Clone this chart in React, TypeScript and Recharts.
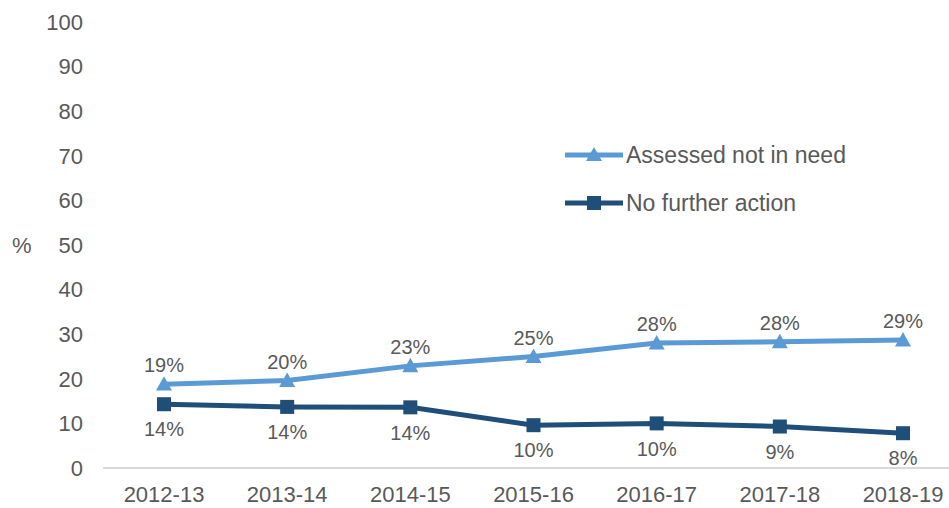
import { LineChart, Line, XAxis, YAxis, LabelList } from 'recharts';

const years = ['2012-13', '2013-14', '2014-15', '2015-16', '2016-17', '2017-18', '2018-19'];
const assessedNotInNeed = [18.8, 19.6, 22.9, 25.0, 28.0, 28.3, 28.7];
const noFurtherAction = [14.3, 13.7, 13.6, 9.6, 10.0, 9.3, 7.8];
const yTicks = [0, 10, 20, 30, 40, 50, 60, 70, 80, 90, 100];

const LIGHT = '#5B9BD5';
const DARK = '#1F4E79';
const TEXT = '#595959';
const FONT = '"Liberation Sans", Arial, sans-serif';

const data = years.map((year, i) => ({
  year,
  assessed: assessedNotInNeed[i],
  nfa: noFurtherAction[i],
}));

const pct = (v: any) => `${Math.round(Number(v))}%`;

const Triangle = (props: any) => {
  const { cx, cy, fill } = props;
  if (cx == null || cy == null) return null;
  const s = 8;
  return <path d={`M${cx},${cy - s} L${cx + s},${cy + s * 0.8} L${cx - s},${cy + s * 0.8} Z`} fill={fill} />;
};

const Square = (props: any) => {
  const { cx, cy, fill } = props;
  if (cx == null || cy == null) return null;
  const s = 7;
  return <rect x={cx - s} y={cy - s} width={s * 2} height={s * 2} fill={fill} />;
};

function LegendRow({ y, color, shape, text }: { y: number; color: string; shape: 'tri' | 'sq'; text: string }) {
  return (
    <div style={{ position: 'absolute', left: 565, top: y - 14, height: 28, display: 'flex', alignItems: 'center' }}>
      <svg width={58} height={28}>
        <line x1={0} y1={14} x2={58} y2={14} stroke={color} strokeWidth={5} />
        {shape === 'tri' ? (
          <path d="M29,6 L37,20 L21,20 Z" fill={color} />
        ) : (
          <rect x={22} y={7} width={14} height={14} fill={color} />
        )}
      </svg>
      <span style={{ fontFamily: FONT, fontSize: 23, color: TEXT, marginLeft: 3 }}>{text}</span>
    </div>
  );
}

export default function App() {
  return (
    <div style={{ position: 'absolute', left: 0, top: 0, width: 949, height: 508, overflow: 'hidden', background: '#fff' }}>
      <LineChart width={964} height={508} data={data} margin={{ top: 22, right: 0, bottom: 0, left: 0 }}>
        <XAxis
          dataKey="year"
          height={40}
          padding={{ left: 61, right: 61 }}
          axisLine={{ stroke: '#D9D9D9', strokeWidth: 2 }}
          tickLine={false}
          tick={{ fill: TEXT, fontSize: 22, fontFamily: FONT }}
          tickMargin={12}
        />
        <YAxis
          width={103}
          domain={[0, 100]}
          ticks={yTicks}
          interval={0}
          axisLine={false}
          tickLine={false}
          tick={{ fill: TEXT, fontSize: 22, fontFamily: FONT }}
          tickMargin={14}
        />
        <Line
          dataKey="assessed"
          stroke={LIGHT}
          strokeWidth={5}
          dot={<Triangle fill={LIGHT} />}
          isAnimationActive={false}
        >
          <LabelList dataKey="assessed" position="top" offset={12} formatter={pct} fill={TEXT} fontSize={20} fontFamily={FONT} />
        </Line>
        <Line
          dataKey="nfa"
          stroke={DARK}
          strokeWidth={5}
          dot={<Square fill={DARK} />}
          isAnimationActive={false}
        >
          <LabelList dataKey="nfa" position="bottom" offset={18} formatter={pct} fill={TEXT} fontSize={20} fontFamily={FONT} />
        </Line>
      </LineChart>
      <div style={{ position: 'absolute', left: 12, top: 233, fontFamily: FONT, fontSize: 22, color: TEXT }}>%</div>
      <LegendRow y={155} color={LIGHT} shape="tri" text="Assessed not in need" />
      <LegendRow y={203} color={DARK} shape="sq" text="No further action" />
    </div>
  );
}
